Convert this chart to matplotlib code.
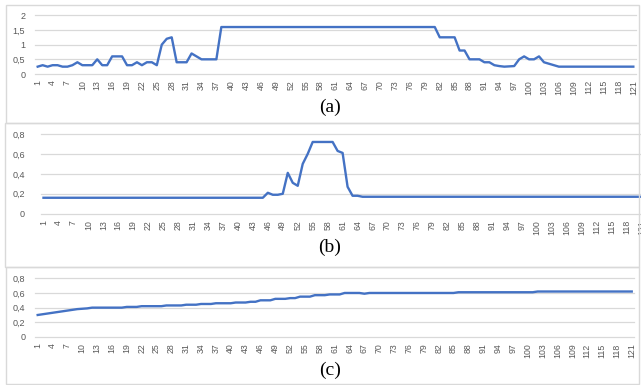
import matplotlib
matplotlib.use("Agg")
import matplotlib.pyplot as plt
from matplotlib.patches import Rectangle

# ---------------- data ----------------
x_idx = list(range(1, 122))
x_tick_labels = [str(i) for i in range(1, 122, 3)]

a_vals = [
    0.25, 0.30, 0.25, 0.30, 0.30, 0.25, 0.25, 0.30, 0.40, 0.30,
    0.30, 0.30, 0.50, 0.30, 0.30, 0.60, 0.60, 0.60, 0.30, 0.30,
    0.40, 0.30, 0.40, 0.40, 0.30, 1.00, 1.20, 1.25, 0.40, 0.40,
    0.40, 0.70, 0.60, 0.50, 0.50, 0.50, 0.50, 1.60, 1.60, 1.60,
    1.60, 1.60, 1.60, 1.60, 1.60, 1.60, 1.60, 1.60, 1.60, 1.60,
    1.60, 1.60, 1.60, 1.60, 1.60, 1.60, 1.60, 1.60, 1.60, 1.60,
    1.60, 1.60, 1.60, 1.60, 1.60, 1.60, 1.60, 1.60, 1.60, 1.60,
    1.60, 1.60, 1.60, 1.60, 1.60, 1.60, 1.60, 1.60, 1.60, 1.60,
    1.60, 1.25, 1.25, 1.25, 1.25, 0.80, 0.80, 0.50, 0.50, 0.50,
    0.40, 0.40, 0.30, 0.27, 0.25, 0.26, 0.27, 0.50, 0.60, 0.50,
    0.50, 0.60, 0.40, 0.35, 0.30, 0.25, 0.25, 0.25, 0.25, 0.25,
    0.25, 0.25, 0.25, 0.25, 0.25, 0.25, 0.25, 0.25, 0.25, 0.25,
    0.25,
]

b_vals = [
    0.16, 0.16, 0.16, 0.16, 0.16, 0.16, 0.16, 0.16, 0.16, 0.16,
    0.16, 0.16, 0.16, 0.16, 0.16, 0.16, 0.16, 0.16, 0.16, 0.16,
    0.16, 0.16, 0.16, 0.16, 0.16, 0.16, 0.16, 0.16, 0.16, 0.16,
    0.16, 0.16, 0.16, 0.16, 0.16, 0.16, 0.16, 0.16, 0.16, 0.16,
    0.16, 0.16, 0.16, 0.16, 0.16, 0.21, 0.19, 0.19, 0.20, 0.41,
    0.31, 0.28, 0.50, 0.60, 0.72, 0.72, 0.72, 0.72, 0.72, 0.63,
    0.61, 0.27, 0.18, 0.18, 0.17, 0.17, 0.17, 0.17, 0.17, 0.17,
    0.17, 0.17, 0.17, 0.17, 0.17, 0.17, 0.17, 0.17, 0.17, 0.17,
    0.17, 0.17, 0.17, 0.17, 0.17, 0.17, 0.17, 0.17, 0.17, 0.17,
    0.17, 0.17, 0.17, 0.17, 0.17, 0.17, 0.17, 0.17, 0.17, 0.17,
    0.17, 0.17, 0.17, 0.17, 0.17, 0.17, 0.17, 0.17, 0.17, 0.17,
    0.17, 0.17, 0.17, 0.17, 0.17, 0.17, 0.17, 0.17, 0.17, 0.17,
    0.17,
]

c_vals = [
    0.30, 0.31, 0.32, 0.33, 0.34, 0.35, 0.36, 0.37, 0.38, 0.385,
    0.39, 0.40, 0.40, 0.40, 0.40, 0.40, 0.40, 0.40, 0.41, 0.41,
    0.41, 0.42, 0.42, 0.42, 0.42, 0.42, 0.43, 0.43, 0.43, 0.43,
    0.44, 0.44, 0.44, 0.45, 0.45, 0.45, 0.46, 0.46, 0.46, 0.46,
    0.47, 0.47, 0.47, 0.48, 0.48, 0.50, 0.50, 0.50, 0.52, 0.52,
    0.52, 0.53, 0.53, 0.55, 0.55, 0.55, 0.57, 0.57, 0.57, 0.58,
    0.58, 0.58, 0.60, 0.60, 0.60, 0.60, 0.59, 0.60, 0.60, 0.60,
    0.60, 0.60, 0.60, 0.60, 0.60, 0.60, 0.60, 0.60, 0.60, 0.60,
    0.60, 0.60, 0.60, 0.60, 0.60, 0.61, 0.61, 0.61, 0.61, 0.61,
    0.61, 0.61, 0.61, 0.61, 0.61, 0.61, 0.61, 0.61, 0.61, 0.61,
    0.61, 0.62, 0.62, 0.62, 0.62, 0.62, 0.62, 0.62, 0.62, 0.62,
    0.62, 0.62, 0.62, 0.62, 0.62, 0.62, 0.62, 0.62, 0.62, 0.62,
    0.62,
]

a_yticks = [0, 0.5, 1, 1.5, 2]
a_ylabels = ["0", "0,5", "1", "1,5", "2"]
bc_yticks = [0, 0.2, 0.4, 0.6, 0.8]
bc_ylabels = ["0", "0,2", "0,4", "0,6", "0,8"]
panel_labels = ["(a)", "(b)", "(c)"]

# ---------------- figure ----------------
W, H = 641, 385
fig = plt.figure(figsize=(W / 100, H / 100), dpi=100)
fig.patch.set_facecolor("white")

LINE = "#4472C4"
GRID = "#d9d9d9"
TXT = "#595959"


def frame(x0, y0, x1, y1):
    fig.patches.append(Rectangle((x0 / W, 1 - y1 / H), (x1 - x0) / W, (y1 - y0) / H,
                                 transform=fig.transFigure, fill=False,
                                 edgecolor=GRID, lw=1.0))


def panel(left, right, top, bottom, vals, yticks, ylabels, ypad, label, label_y):
    ax = fig.add_axes([left / W, 1 - bottom / H, (right - left) / W, (bottom - top) / H])
    ax.set_xlim(0.5, 121.5)
    ax.set_ylim(yticks[0], yticks[-1])
    for s in ax.spines.values():
        s.set_visible(False)
    for yt in yticks:
        ax.axhline(yt, color=GRID, lw=0.9, zorder=1, clip_on=False)
    ax.plot(x_idx, vals, color=LINE, lw=1.7, zorder=3, solid_joinstyle="round",
            clip_on=False)
    ax.set_xticks(list(range(1, 122, 3)))
    ax.set_xticklabels(x_tick_labels, family="Liberation Sans")
    ax.set_yticks(yticks)
    ax.set_yticklabels(ylabels, family="Liberation Sans")
    ax.tick_params(axis="x", length=0, pad=4.5, labelrotation=90, labelsize=6.3,
                   colors=TXT)
    ax.tick_params(axis="y", length=0, pad=ypad, labelsize=6.5, colors=TXT)
    fig.text(330 / W, 1 - label_y / H, label, family="Liberation Serif",
             fontsize=14, ha="center", va="center", color="black")
    return ax


frame(6, 5, 639, 123)
frame(5, 123, 639, 267)
frame(6, 267, 639, 384)

panel(35.2, 635.8, 15.3, 74, a_vals, a_yticks, a_ylabels, 7.2, panel_labels[0], 107)
panel(41.0, 644.2, 134, 213.7, b_vals, bc_yticks, bc_ylabels, 11.5, panel_labels[1], 247)
panel(35.2, 634.2, 278.3, 337, c_vals, bc_yticks, bc_ylabels, 7.2, panel_labels[2], 370)

fig.savefig("out.png", dpi=100, facecolor="white")
